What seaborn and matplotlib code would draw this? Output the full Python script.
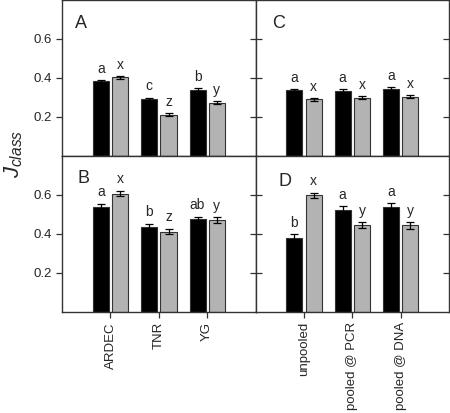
import seaborn as sns
import matplotlib.pyplot as plt
import pandas as pd
import numpy as np

sites = ["ARDEC", "TNR", "YG"]
methods = ["unpooled", "pooled @ PCR", "pooled @ DNA"]
series = ["black", "gray"]

# panel A / B: sites, panel C / D: pooling method
a_black = [0.382, 0.290, 0.340]
a_gray = [0.403, 0.211, 0.273]
a_black_se = [0.008, 0.009, 0.009]
a_gray_se = [0.008, 0.008, 0.008]
a_letters_black = ["a", "c", "b"]
a_letters_gray = ["x", "z", "y"]

b_black = [0.538, 0.436, 0.475]
b_gray = [0.607, 0.412, 0.470]
b_black_se = [0.017, 0.017, 0.014]
b_gray_se = [0.015, 0.015, 0.016]
b_letters_black = ["a", "b", "ab"]
b_letters_gray = ["x", "z", "y"]

c_black = [0.336, 0.334, 0.345]
c_gray = [0.290, 0.298, 0.304]
c_black_se = [0.008, 0.008, 0.009]
c_gray_se = [0.007, 0.008, 0.008]
c_letters_black = ["a", "a", "a"]
c_letters_gray = ["x", "x", "x"]

d_black = [0.381, 0.525, 0.540]
d_gray = [0.597, 0.445, 0.443]
d_black_se = [0.017, 0.017, 0.017]
d_gray_se = [0.015, 0.017, 0.016]
d_letters_black = ["b", "a", "a"]
d_letters_gray = ["x", "y", "y"]

panels = [
    ("A", sites, a_black, a_gray, a_black_se, a_gray_se, a_letters_black, a_letters_gray, (0.065, 0.905)),
    ("C", methods, c_black, c_gray, c_black_se, c_gray_se, c_letters_black, c_letters_gray, (0.085, 0.905)),
    ("B", sites, b_black, b_gray, b_black_se, b_gray_se, b_letters_black, b_letters_gray, (0.08, 0.91)),
    ("D", methods, d_black, d_gray, d_black_se, d_gray_se, d_letters_black, d_letters_gray, (0.12, 0.89)),
]

sns.set_style("ticks")
plt.rcParams['font.family'] = ['Liberation Sans', 'DejaVu Sans']
plt.rcParams['mathtext.fontset'] = 'custom'
plt.rcParams['mathtext.it'] = 'Liberation Sans:italic'
plt.rcParams['mathtext.rm'] = 'Liberation Sans'

fig, axs = plt.subplots(2, 2, figsize=(4.5, 4.13), dpi=100)
fig.subplots_adjust(left=0.138, right=0.998, bottom=0.245, top=1.0, wspace=0, hspace=0)

edge = "#333333"
for ax, (name, cats, blk, gry, blk_se, gry_se, lb, lg, pos) in zip(axs.ravel(), panels):
    df = pd.DataFrame({
        "cat": cats * 2,
        "series": ["black"] * 3 + ["gray"] * 3,
        "value": blk + gry,
    })
    sns.barplot(data=df, x="cat", y="value", hue="series", order=cats, hue_order=series,
                palette=["black", "#b3b3b3"], width=0.8, gap=0.17, errorbar=None,
                edgecolor=edge, linewidth=0.8, legend=False, ax=ax)
    for cont, se, letters in zip(ax.containers, [blk_se, gry_se], [lb, lg]):
        xs = [p.get_x() + p.get_width() / 2 for p in cont.patches]
        hs = [p.get_height() for p in cont.patches]
        ax.errorbar(xs, hs, yerr=se, fmt="none", ecolor="black", elinewidth=0.9,
                    capsize=3, capthick=0.9)
        for x, h, s, t in zip(xs, hs, se, letters):
            ax.annotate(t, (x, h + s), xytext=(0, 3), textcoords="offset points",
                        ha="center", va="bottom", fontsize=10)
    ax.text(pos[0], pos[1], name, transform=ax.transAxes, fontsize=13, va="top", ha="left")
    ax.set_xlim(-1, 3)
    ax.set_ylim(0, 0.8)
    ax.set_yticks([0.2, 0.4, 0.6])
    ax.set_xlabel("")
    ax.set_ylabel("")
    for sp in ax.spines.values():
        sp.set_visible(True)
        sp.set_color(edge)
        sp.set_linewidth(1)
    ax.tick_params(axis="both", color=edge, length=4, width=0.9, labelsize=9.5)

for ax in axs[0]:
    ax.tick_params(axis="x", bottom=False, labelbottom=False)
for ax in axs[1]:
    ax.tick_params(axis="x", rotation=90)
# right column: ticks cross the divider, and point inward at the right edge
for ax in axs[:, 1]:
    ax.tick_params(axis="y", labelleft=False, left=True, right=True,
                   direction="inout", length=9)

fig.text(0.03, 0.627, "$J_{class}$", rotation=90, fontsize=16, ha="center", va="center")

fig.savefig("out.png", dpi=100)
